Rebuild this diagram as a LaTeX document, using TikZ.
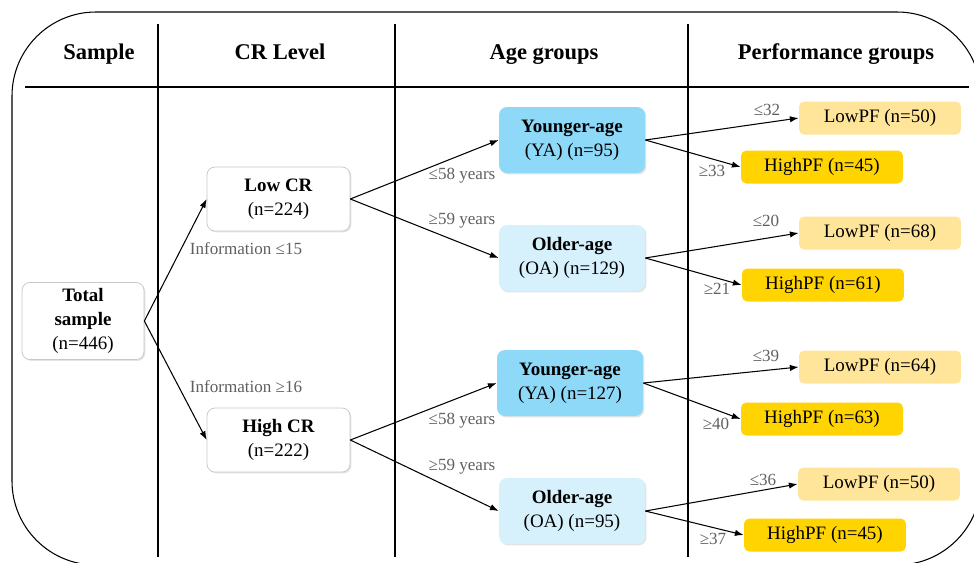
\documentclass[tikz,border=0pt]{standalone}
\usepackage{fontspec}
\setmainfont{Liberation Serif}
\usetikzlibrary{arrows.meta,shadows}

\definecolor{yacol}{RGB}{142,216,248}
\definecolor{oacol}{RGB}{214,241,252}
\definecolor{lowpfcol}{RGB}{255,229,153}
\definecolor{highpfcol}{RGB}{255,212,0}
\definecolor{labcol}{RGB}{95,95,95}

\tikzset{
	head/.style={font=\fontsize{12.8}{15}\selectfont\bfseries, text height=1.8ex, text depth=0.5ex},
	boxtext/.style={align=center, inner sep=0pt, font=\fontsize{10.8}{13.8}\selectfont},
	whitebox/.style={boxtext, draw=black!22, fill=white, rounded corners=4.5pt,
		drop shadow={opacity=0.22, shadow xshift=0.8pt, shadow yshift=-0.8pt}},
	agebox/.style={boxtext, minimum width=2.92cm, minimum height=1.32cm, rounded corners=4.5pt,
		drop shadow={opacity=0.22, shadow xshift=0.8pt, shadow yshift=-0.8pt}},
	pfbox/.style={boxtext, minimum width=3.24cm, minimum height=0.66cm, rounded corners=3pt},
	lab/.style={text=labcol, inner sep=0pt, font=\fontsize{9.7}{11}\selectfont, text height=1.6ex, text depth=0.4ex},
	conn/.style={-{Latex[length=5pt,width=3.6pt]}, line width=0.6pt}
}

\begin{document}
\begin{tikzpicture}[x=0.02cm, y=-0.02cm]
		\useasboundingbox (0,0) rectangle (974,562);
		\clip (0,0) rectangle (974,562);
		
		% Frame and table lines
		\draw[line width=0.6pt, rounded corners=1.68cm] (12,12) rectangle (981,565);
		\draw[line width=1.1pt] (25,87) -- (969,87);
		\draw[line width=0.7pt] (158,24) -- (158,557);
		\draw[line width=0.7pt] (395,24) -- (395,557);
		\draw[line width=0.7pt] (688,24) -- (688,557);
		
		% Column titles
		\node[head] (hsample) at (99,54) {Sample};
		\node[head] (hcr) at (280,54) {CR Level};
		\node[head] (hage) at (544,54) {Age groups};
		\node[head] (hperf) at (836,54) {Performance groups};
		
		% Sample and CR level
		\node[whitebox, minimum width=2.44cm, minimum height=1.54cm] (total) at (83,321)
			{\textbf{Total}\\\textbf{sample}\\(n=446)};
		\node[whitebox, minimum width=2.86cm, minimum height=1.28cm] (lowcr) at (278.5,199)
			{\textbf{Low CR}\\(n=224)};
		\node[whitebox, minimum width=2.86cm, minimum height=1.28cm] (highcr) at (278.5,440)
			{\textbf{High CR}\\(n=222)};
		
		% Age groups
		\node[agebox, fill=yacol] (ya1) at (572,140) {\textbf{Younger-age}\\(YA) (n=95)};
		\node[agebox, fill=oacol] (oa1) at (572,258) {\textbf{Older-age}\\(OA) (n=129)};
		\node[agebox, fill=yacol] (ya2) at (570,383) {\textbf{Younger-age}\\(YA) (n=127)};
		\node[agebox, fill=oacol] (oa2) at (572,511) {\textbf{Older-age}\\(OA) (n=95)};
		
		% Performance groups
		\node[pfbox, fill=lowpfcol] (lpf1) at (880,118) {LowPF (n=50)};
		\node[pfbox, fill=highpfcol] (hpf1) at (822,167) {HighPF (n=45)};
		\node[pfbox, fill=lowpfcol] (lpf2) at (880,233) {LowPF (n=68)};
		\node[pfbox, fill=highpfcol] (hpf2) at (823,285) {HighPF (n=61)};
		\node[pfbox, fill=lowpfcol] (lpf3) at (880,367) {LowPF (n=64)};
		\node[pfbox, fill=highpfcol] (hpf3) at (822,419) {HighPF (n=63)};
		\node[pfbox, fill=lowpfcol] (lpf4) at (879,484) {LowPF (n=50)};
		\node[pfbox, fill=highpfcol] (hpf4) at (825,535) {HighPF (n=45)};
		
		% Connectors
		\draw[conn] (total.east) -- (lowcr.west);
		\draw[conn] (total.east) -- (highcr.west);
		\draw[conn] (lowcr.east) -- (ya1.west);
		\draw[conn] (lowcr.east) -- (oa1.west);
		\draw[conn] (highcr.east) -- (ya2.west);
		\draw[conn] (highcr.east) -- (oa2.west);
		\draw[conn] (ya1.east) -- (lpf1.west);
		\draw[conn] (ya1.east) -- (hpf1.west);
		\draw[conn] (oa1.east) -- (lpf2.west);
		\draw[conn] (oa1.east) -- (hpf2.west);
		\draw[conn] (ya2.east) -- (lpf3.west);
		\draw[conn] (ya2.east) -- (hpf3.west);
		\draw[conn] (oa2.east) -- (lpf4.west);
		\draw[conn] (oa2.east) -- (hpf4.west);
		
		% Cut-off labels
		\node[lab] (info1) at (246,250) {Information ≤15};
		\node[lab] (info2) at (246,388) {Information ≥16};
		\node[lab] (yrs1) at (462,175) {≤58 years};
		\node[lab] (yrs2) at (462,220) {≥59 years};
		\node[lab] (yrs3) at (462,420) {≤58 years};
		\node[lab] (yrs4) at (462,466) {≥59 years};
		\node[lab] (cut1) at (767,111) {≤32};
		\node[lab] (cut2) at (712,172) {≥33};
		\node[lab] (cut3) at (766,222) {≤20};
		\node[lab] (cut4) at (717,290) {≥21};
		\node[lab] (cut5) at (766,357) {≤39};
		\node[lab] (cut6) at (716,425) {≥40};
		\node[lab] (cut7) at (763,481) {≤36};
		\node[lab] (cut8) at (713,540) {≥37};
		
\end{tikzpicture}
\end{document}
